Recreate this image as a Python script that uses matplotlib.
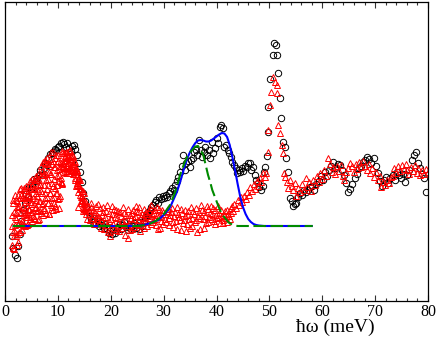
import matplotlib
matplotlib.use("Agg")
import matplotlib.pyplot as plt
from matplotlib.ticker import MultipleLocator

# ---------------- data (intensity in arbitrary units, baseline = 0) ----------------
black_x = [1.3, 1.6, 1.9, 2.2, 2.5, 2.8, 3.1, 3.4, 3.7, 4.0, 4.3, 4.6, 4.9, 5.2, 5.5, 5.8,
           6.1, 6.4, 6.7, 7.0, 7.3, 7.6, 7.9, 8.2, 8.5, 8.8, 9.1, 9.4, 9.7, 10.0, 10.3, 10.6,
           10.9, 11.2, 11.5, 11.8, 12.1, 12.4, 12.7, 13.0, 13.3, 13.6, 13.9, 14.2, 14.5, 14.8,
           15.1, 15.4,
           15.7, 16.0, 16.3, 16.6, 16.9, 17.2, 17.5, 17.8, 18.1, 18.4, 18.7, 19.0, 19.3, 19.6,
           19.9, 20.2, 20.5, 20.8, 21.1, 21.4, 21.7, 22.0, 22.3, 22.6, 22.9, 23.2, 23.5, 23.8,
           24.1, 24.4, 24.7, 25.0, 25.3, 25.6, 25.9, 26.2, 26.5, 26.8, 27.1,
           27.4, 27.7, 28.0, 28.3, 28.6, 28.9, 29.2, 29.5, 29.8, 30.1, 30.4, 30.7, 31.0, 31.3,
           31.6, 31.9, 32.2, 32.5, 32.8, 33.1, 33.4, 33.7, 34.0, 34.3, 34.6, 34.9, 35.2, 35.5,
           35.8, 36.1, 36.4, 36.7, 37.0, 37.3, 37.6, 37.9, 38.2, 38.5, 38.8, 39.1, 39.4, 39.7,
           40.0, 40.3, 40.6, 40.9, 41.2, 41.5, 41.8, 42.1, 42.4, 42.7, 43.0, 43.3, 43.6, 43.9,
           44.2, 44.5, 44.8, 45.1, 45.4, 45.7, 46.0, 46.3, 46.6, 46.9, 47.2, 47.5, 47.8, 48.1,
           48.4, 48.7, 49.0,
           49.2, 49.5, 49.7, 49.8, 50.1, 50.6, 50.8, 51.2, 51.5, 51.7, 52.0, 52.2, 52.6, 52.9,
           53.2, 53.5, 53.9, 54.2, 54.5, 54.8, 55.1, 55.4,
           55.7, 56.1, 56.5, 56.9, 57.3, 57.7, 58.1, 58.5, 58.9, 59.3, 59.7, 60.1, 60.5, 60.9,
           61.3, 61.7, 62.1, 62.5, 62.9, 63.3, 63.7, 64.1, 64.5, 64.9, 65.3, 65.7, 66.1, 66.5,
           66.9, 67.3, 67.7, 68.1, 68.5, 68.9, 69.3, 69.7, 70.1, 70.5, 70.9, 71.3, 71.7, 72.1,
           72.5, 72.9, 73.3, 73.7, 74.1, 74.5, 74.9, 75.3, 75.7, 76.1, 76.5, 76.9, 77.3, 77.7,
           78.1, 78.5, 78.9, 79.3, 79.7]
black_y = [-1.0, -2.2, -2.9, -3.2, -2.0, -0.8, 0.5, 1.6, 2.3, 3.2, 2.9, 3.9, 3.7, 4.0, 4.7, 4.5,
           4.8, 5.1, 5.6, 5.1, 5.8, 6.3, 6.1, 6.8, 7.2, 7.3, 7.4, 7.7, 7.6, 7.9, 8.0, 8.3,
           8.4, 8.2, 7.9, 8.3, 7.8, 7.5, 8.0, 8.1, 7.7, 7.1, 6.3, 5.4, 4.4, 3.3,
           2.5, 1.8,
           1.4, 1.0, 0.7, 0.4, 0.8, 0.2, 0.5, 0.0, 0.4, 0.1, -0.2, 0.2, -0.3, -0.7,
           -0.5, -0.8, -0.4, -0.7, -0.2, -0.1, 0.2, -0.3, 0.1, 0.4, -0.1, -0.4, 0.0, -0.3,
           0.0, 0.3, -0.2, 0.1, -0.3, 0.4, 0.0, 0.5, 0.9, 1.3, 1.1,
           1.6, 1.9, 2.1, 2.4, 2.6, 2.3, 2.9, 2.7, 3.0, 2.8, 3.1, 2.9, 3.3, 3.5,
           3.8, 3.6, 4.1, 4.5, 4.9, 5.4, 6.0, 7.1, 5.6, 6.3, 6.5, 5.9, 6.6, 6.8,
           7.4, 7.6, 7.1, 8.6, 7.6, 6.9, 7.4, 7.9, 7.1, 7.6, 6.8, 8.4, 7.3, 7.8,
           8.8, 8.3, 9.9, 10.1, 9.8, 7.9, 8.1, 7.6, 7.3, 6.9, 6.4, 6.1, 5.8, 5.3,
           5.6, 5.4, 5.8, 5.5, 6.0, 5.9, 6.3, 6.3, 5.6, 5.9, 5.1, 4.6, 4.3, 3.9,
           3.6, 4.0, 5.4,
           5.9, 7.0, 9.4, 11.9, 14.7, 17.1, 18.3, 18.1, 17.1, 15.3, 12.8, 10.8, 8.4, 7.9,
           6.8, 5.4, 2.8, 2.5, 2.0, 2.2, 2.3, 2.9,
           3.3, 3.1, 3.6, 3.4, 3.6, 3.9, 4.0, 3.6, 4.2, 4.5, 5.0, 4.6, 5.4, 5.0,
           5.6, 6.0, 6.4, 5.8, 6.2, 6.1, 5.6, 5.1, 4.3, 3.4, 3.7, 4.2, 4.8, 5.2,
           5.8, 6.0, 6.4, 6.6, 6.9, 6.7, 6.3, 6.8, 6.0, 5.3, 4.5, 4.0, 4.6, 4.9,
           4.3, 4.8, 5.1, 4.6, 5.4, 5.1, 4.8, 5.2, 4.4, 5.1, 5.6, 6.6, 7.1, 7.4,
           6.3, 5.8, 5.2, 4.8, 3.4]

red_x = [1.3, 1.4, 1.5, 1.6, 1.7, 1.8, 1.9, 2.0, 2.1, 2.2, 2.3, 2.4, 2.5, 2.6, 2.7, 2.8,
         2.9, 3.0, 3.1, 3.2, 3.3, 3.4, 3.5, 3.6, 3.7, 3.8, 3.9, 4.0, 4.1, 4.2, 4.3, 4.4,
         4.5, 4.6, 4.7, 4.8, 4.9, 5.0, 5.1, 5.2, 5.3, 5.4, 5.5, 5.6, 5.7, 5.8, 5.9, 6.0,
         6.1, 6.2, 6.3, 6.4, 6.5, 6.6, 6.7, 6.8, 6.9, 7.0, 7.1, 7.2, 7.3, 7.4, 7.5, 7.6,
         7.7, 7.8, 7.9, 8.0, 8.1, 8.2, 8.3, 8.4, 8.5, 8.6, 8.7, 8.8, 8.9, 9.0, 9.1, 9.2,
         9.3, 9.4, 9.5, 9.6, 9.7, 9.8, 9.9, 10.0, 10.1, 10.2, 10.3,
         10.4, 10.5, 10.6, 10.7, 10.8, 10.9, 11.0, 11.1, 11.2, 11.3, 11.4, 11.5, 11.6, 11.7,
         11.8, 11.9, 12.0, 12.1, 12.2, 12.3, 12.4, 12.5, 12.6, 12.7, 12.8, 12.9, 13.0, 13.1,
         13.2, 13.3, 13.4, 13.5, 13.6, 13.7, 13.8, 13.9, 14.0, 14.1, 14.2, 14.3, 14.4, 14.5,
         14.6, 14.7, 14.8, 14.9, 15.0, 15.1, 15.2, 15.3, 15.4, 15.5,
         15.7, 15.95, 16.2, 16.45, 16.7, 16.95, 17.2, 17.45, 17.7, 17.95, 18.2, 18.45, 18.7,
         18.95, 19.2, 19.45, 19.7, 19.95, 20.2, 20.45, 20.7, 20.95, 21.2, 21.45, 21.7, 21.95,
         22.2, 22.45, 22.7, 22.95, 23.2, 23.45, 23.7, 23.95, 24.2, 24.45, 24.7, 24.95, 25.2,
         25.45, 25.7, 25.95, 26.2, 26.45, 26.7, 26.95, 27.2, 27.45, 27.7, 27.95, 28.2, 28.45,
         28.7, 28.95, 29.2, 29.45, 29.7, 29.95,
         30.2, 30.5, 30.8, 31.1, 31.4, 31.7, 32.0, 32.3, 32.6, 32.9, 33.2, 33.5, 33.8, 34.1,
         34.4, 34.7, 35.0, 35.3, 35.6, 35.9, 36.2, 36.5, 36.8, 37.1, 37.4, 37.7, 38.0, 38.3,
         38.6, 38.9, 39.2, 39.5, 39.8, 40.1, 40.4, 40.7, 41.0, 41.3, 41.6, 41.9, 42.2, 42.5,
         42.8,
         43.1, 43.4, 43.7, 44.0, 44.3, 44.6, 44.9, 45.2, 45.5, 45.8, 46.1, 46.4, 46.7, 47.0,
         47.3, 47.6, 47.9, 48.2, 48.5, 48.8, 49.1,
         49.4, 49.7, 49.8, 50.1, 50.4, 50.7, 51.1, 51.4, 51.5, 51.7, 52.0, 52.3, 52.5, 52.7,
         53.0, 53.3, 53.6, 53.9, 54.2, 54.5, 54.8,
         55.1, 55.45, 55.8, 56.15, 56.5, 56.85, 57.2, 57.55, 57.9, 58.25, 58.6, 58.95, 59.3,
         59.65, 60.0, 60.35, 60.7, 61.05, 61.4, 61.75, 62.1, 62.45, 62.8, 63.15, 63.5, 63.85,
         64.2, 64.55, 64.9, 65.25, 65.6, 65.95, 66.3, 66.65, 67.0, 67.35, 67.7, 68.05, 68.4,
         68.75, 69.1, 69.45, 69.8, 70.15, 70.5, 70.85, 71.2, 71.55, 71.9, 72.25, 72.6, 72.95,
         73.3, 73.65, 74.0, 74.35, 74.7, 75.05, 75.4, 75.75, 76.1, 76.45, 76.8, 77.15, 77.5,
         77.85, 78.2, 78.55, 78.9, 79.25, 79.6, 79.95]
red_y = [-1.9, 1.1, -0.6, 2.6, -2.3, 0.9, -0.6, 2.6, 0.7, -0.8, 1.9, -1.6, 3.1, 0.4, 2.0, -0.6,
         2.8, 1.3, 3.8, 0.5, 0.2, 2.9, 1.4, 3.8, 0.0, 2.4, 1.2, 3.6, 2.1, 0.9, 3.1, 0.2,
         4.0, 1.7, 3.0, 0.7, 3.7, 2.2, 4.7, 1.4, 1.0, 3.8, 2.2, 4.8, 0.7, 3.3, 1.9, 4.6,
         3.0, 1.6, 4.1, 0.7, 5.3, 2.5, 4.2, 1.3, 5.1, 3.3, 6.4, 2.3, 1.8, 5.3, 3.3, 6.6,
         1.3, 4.6, 2.9, 6.2, 4.1, 2.3, 5.4, 1.2, 6.7, 3.3, 5.2, 1.9, 6.2, 4.0, 7.4, 2.9,
         2.3, 5.9, 3.8, 7.1, 1.7, 5.0, 3.3, 6.5, 4.5, 2.8, 5.7,
         3.0, 6.3, 4.8, 7.3, 4.2, 6.3, 5.9, 7.3, 6.5, 5.8, 6.9, 5.3, 7.4, 6.1,
         6.8, 5.5, 7.1, 6.3, 7.6, 5.9, 5.6, 6.9, 6.0, 7.1, 5.2, 6.2, 5.5, 6.5,
         5.6, 4.8, 5.6, 4.0, 5.6, 4.3, 4.7, 3.4, 4.6, 3.7, 4.6, 2.9, 2.5, 3.5,
         2.6, 3.5, 1.5, 2.4, 1.7, 2.5, 1.8, 1.2, 1.9, 0.7,
         2.0, 1.2, 2.3, 0.8, 1.6, 0.4, 2.0, 1.1, 0.3, 1.8, 0.6, 1.4, -0.3,
         0.9, 2.1, -0.6, 0.5, -1.0, 1.2, 0.2, 1.7, -0.4, 0.8, 1.5, 0.1, 1.0,
         -0.2, 1.3, -0.9, 0.6, -1.2, 0.3, 1.1, -0.3, 1.6, 0.7, 2.0, 0.2, 1.4,
         -0.5, 0.9, 0.3, 1.7, 0.6, 1.2, 0.0, 1.5, 0.8, 2.1, 0.4, 1.3, 0.7,
         1.9, -0.3, 1.0, 0.5, 1.6, 0.2,
         1.2, 0.4, 1.7, 0.8, 1.4, -0.1, 1.0, 0.5, 1.9, 0.9, -0.4, 1.3, 0.6, 1.6,
         0.2, 1.1, -0.2, 0.8, 1.5, 0.4, 1.8, 1.0, -0.3, 2.1, 0.7, 1.4, 0.3, 1.7,
         0.9, 2.0, 1.2, 0.5, 1.6, 0.8, 1.3, 0.3, 1.0, 0.6, 1.5, 0.4, 1.2, 0.7,
         1.8,
         1.5, 2.2, 1.8, 2.6, 2.1, 2.9, 2.4, 3.0, 2.7, 3.4, 3.1, 3.9, 3.5, 4.2,
         3.7, 4.5, 4.0, 4.8, 4.4, 5.3, 4.9,
         5.3, 7.4, 9.6, 12.1, 13.4, 14.9, 14.4, 14.1, 13.3, 10.1, 9.3, 8.1, 7.3, 5.3,
         4.9, 4.4, 3.8, 4.6, 4.0, 3.6, 4.3,
         3.0, 3.8, 3.4, 4.2, 3.6, 4.8, 3.9, 4.4, 3.5, 4.6, 4.1, 5.0, 4.4,
         5.3, 4.7, 5.6, 5.0, 6.8, 6.2, 5.4, 5.9, 5.2, 6.0, 5.5, 6.1, 5.0,
         4.6, 5.4, 5.8, 6.3, 6.0, 5.4, 6.2, 5.7, 6.4, 5.9, 6.5, 6.0, 5.6,
         6.2, 5.3, 5.8, 4.9, 5.4, 4.6, 5.0, 3.9, 4.4, 4.1, 4.6, 4.3, 4.9,
         5.0, 5.8, 5.3, 6.0, 5.5, 6.1, 5.7, 6.2, 5.6, 5.2, 5.9, 5.5, 6.1,
         5.3, 5.8, 5.1, 5.6, 5.2, 5.7, 5.4]

# second, interleaved red channel (denser sampling below ~43 meV)
red2_x = [1.35, 1.45, 1.55, 1.65, 1.75, 1.85, 1.95, 2.05, 2.15, 2.25, 2.35, 2.45, 2.55, 2.65,
          2.75, 2.85, 2.95, 3.05, 3.15, 3.25, 3.35, 3.45, 3.55, 3.65, 3.75, 3.85, 3.95, 4.05,
          4.15, 4.25, 4.35, 4.45, 4.55, 4.65, 4.75, 4.85, 4.95, 5.05, 5.15, 5.25, 5.35, 5.45,
          5.55, 5.65, 5.75, 5.85, 5.95, 6.05, 6.15, 6.25, 6.35, 6.45, 6.55, 6.65, 6.75, 6.85,
          6.95, 7.05, 7.15, 7.25, 7.35, 7.45, 7.55, 7.65, 7.75, 7.85, 7.95, 8.05, 8.15, 8.25,
          8.35, 8.45, 8.55, 8.65, 8.75, 8.85, 8.95, 9.05, 9.15, 9.25, 9.35, 9.45, 9.55, 9.65,
          9.75, 9.85, 9.95, 10.05, 10.15, 10.25,
          10.45, 10.55, 10.65, 10.75, 10.85, 10.95, 11.05, 11.15, 11.25, 11.35, 11.45, 11.55,
          11.65, 11.75, 11.85, 11.95, 12.05, 12.15, 12.25, 12.35, 12.45, 12.55, 12.65, 12.75,
          12.85, 12.95, 13.05, 13.15, 13.25, 13.35, 13.45, 13.55, 13.65, 13.75, 13.8, 13.85,
          13.95, 14.05, 14.15, 14.25, 14.35, 14.45, 14.55, 14.65, 14.75, 14.85, 14.95, 15.05,
          15.15,
          15.83, 16.08, 16.33, 16.58, 16.83, 17.08, 17.33, 17.58, 17.83, 18.08, 18.33, 18.58,
          18.83, 19.08, 19.33, 19.58, 19.83, 20.08, 20.33, 20.58, 20.83, 21.08, 21.33, 21.58,
          21.83, 22.08, 22.33, 22.58, 22.83, 23.08, 23.33, 23.58, 23.83, 24.08, 24.33, 24.58,
          24.83, 25.08, 25.33, 25.58, 25.83, 26.08, 26.33, 26.58, 26.83, 27.08, 27.33, 27.58,
          27.83, 28.08, 28.33, 28.58, 28.83, 29.08, 29.33, 29.58, 29.83,
          30.35, 30.65, 30.95, 31.25, 31.55, 31.85, 32.15, 32.45, 32.75, 33.05, 33.35, 33.65,
          33.95, 34.25, 34.55, 34.85, 35.15, 35.45, 35.75, 36.05, 36.35, 36.65, 36.95, 37.25,
          37.55, 37.85, 38.15, 38.45, 38.75, 39.05, 39.35, 39.65, 39.95, 40.25, 40.55, 40.85,
          41.15, 41.45, 41.75, 42.05, 42.35, 42.65, 42.95]
red2_y = [0.0, -2.2, 2.3, -1.0, 1.4, 0.1, 3.1, -1.0, 1.3, -1.85, 2.5, 0.2, 1.9, -0.6,
          3.7, 1.4, 0.3, 3.1, -0.4, 2.8, 1.9, 0.1, 3.6, 1.1, 2.8, 1.8, 4.0, 0.9,
          2.6, 0.1, 3.5, 1.6, 2.9, 0.9, 4.5, 2.4, 1.4, 4.0, 0.5, 3.7, 2.8, 0.8,
          4.6, 1.8, 3.7, 2.6, 5.0, 1.5, 3.5, 0.6, 4.6, 2.5, 4.1, 1.5, 6.0, 3.5,
          2.2, 5.5, 1.1, 5.1, 4.1, 1.6, 6.3, 2.8, 5.2, 3.7, 6.8, 2.3, 4.7, 1.2,
          6.0, 3.3, 5.2, 2.1, 7.4, 4.3, 2.8, 6.5, 1.6, 5.9, 4.7, 2.0, 6.8, 3.3,
          5.6, 4.1, 7.1, 2.7, 5.1, 1.8,
          6.4, 4.4, 6.0, 4.3, 7.5, 6.2, 5.8, 7.3, 5.4, 7.0, 6.6, 5.5,
          7.4, 6.0, 6.9, 6.3, 7.5, 5.8, 6.7, 5.3, 7.0, 6.0, 6.5, 5.5,
          7.0, 6.0, 5.4, 6.4, 4.6, 5.8, 5.2, 4.1, 5.5, 4.1, 1.9, 4.7,
          4.0, 4.8, 3.1, 3.7, 2.3, 3.7, 2.6, 3.0, 1.8, 3.3, 2.2, 1.6,
          2.5,
          1.5, 0.6, 1.9, 1.2, 0.2, 1.4, 0.7, 2.2, 0.9, -0.2, 1.1, 1.9,
          0.4, 1.5, 0.1, 1.3, -0.6, 0.7, 2.0, -0.2, 0.9, 1.6, 0.3, -0.5,
          1.4, 0.5, 1.9, 0.2, 1.1, 0.0, 1.7, -0.4, 0.8, 1.3, -0.1, 1.0,
          1.5, 0.6, 1.9, 0.1, 1.2, 0.8, -0.2, 1.4, 0.4, 1.0, 1.8, 0.2,
          1.2, 0.6, 1.6, 0.1, 1.1, 1.7, -0.2, 0.9, 1.4,
          0.7, 1.5, 0.1, 1.1, 1.8, 0.4, 1.4, -0.3, 1.2, 0.6, 1.7, 0.3,
          1.0, -0.5, 1.5, 0.7, 1.9, 0.0, 1.2, 0.6, -0.6, 1.4, 0.8, 1.6,
          -0.2, 1.0, 2.0, 0.4, 1.3, 0.7, 1.8, 0.2, 1.1, 2.0, 0.9, 1.6,
          0.3, 1.1, 0.8, 1.6, 1.0, 1.3, 2.0]

# two-peak fit (solid) and single-peak fit (dashed)
fit_x = [1.45, 24.0, 25.0, 26.0, 27.0, 28.0, 29.0, 30.0, 31.0, 31.5, 32.0, 32.5, 33.0, 33.5,
         34.0, 34.5, 35.0, 35.5, 36.0, 36.5, 37.0, 37.5, 38.0, 38.5, 39.0, 39.5, 40.0, 40.5,
         41.0, 41.5, 42.0, 42.5, 43.0, 43.5, 44.0, 44.5, 45.0, 45.5, 46.0, 46.5, 47.0, 47.5,
         48.0, 49.0, 58.2]
fit_y = [0.0, 0.0, 0.02, 0.08, 0.2, 0.4, 0.6, 1.1, 1.7, 2.2, 2.8, 3.4, 4.2, 5.1,
         6.0, 6.8, 7.4, 7.9, 8.3, 8.55, 8.6, 8.55, 8.45, 8.45, 8.55, 8.75, 8.95, 9.15,
         9.3, 9.25, 8.9, 8.1, 6.9, 5.6, 4.2, 2.9, 1.9, 1.2, 0.7, 0.4, 0.2, 0.1,
         0.05, 0.0, 0.0]
single_x = [1.45, 25.0, 25.5, 26.5, 27.3, 28.5, 29.9, 31.2, 32.2, 33.1, 34.0, 34.7, 35.4,
            36.0, 36.5, 37.0, 37.5, 38.0, 38.4, 38.8, 39.2, 39.7, 40.5, 41.0, 41.6, 42.3,
            43.1, 44.0, 58.2]
single_y = [0.0, 0.0, 0.02, 0.1, 0.2, 0.5, 1.1, 2.1, 3.4, 5.1, 6.4, 7.2, 7.6,
            7.95, 8.0, 7.6, 7.1, 6.0, 5.1, 4.4, 3.6, 2.9, 1.8, 1.2, 0.8, 0.35,
            0.1, 0.0, 0.0]

x_ticks = [0, 10, 20, 30, 40, 50, 60, 70, 80]
x_label = "ħω (meV)"

# ---------------- figure ----------------
fig = plt.figure(figsize=(4.38, 3.38), dpi=100)
ax = fig.add_axes([5 / 438, 37 / 338, 423 / 438, 299 / 338])

ax.plot(black_x, black_y, linestyle="none", marker="o", markersize=4.6,
        markerfacecolor="none", markeredgecolor="black", markeredgewidth=0.7)
for rx, ry in ((red_x, red_y), (red2_x, red2_y)):
    ax.plot(rx, ry, linestyle="none", marker="^", markersize=4.4,
            markerfacecolor="none", markeredgecolor="#ff0000", markeredgewidth=0.7)
ax.plot(fit_x, fit_y, color="#0000ff", lw=1.5, solid_capstyle="butt")
ax.plot(single_x, single_y, color="#008a00", lw=1.5, linestyle=(0, (6, 2.2)))

ax.set_xlim(0, 80)
ax.set_ylim(-7.5, 22.4)
ax.set_xticks(x_ticks)
ax.xaxis.set_minor_locator(MultipleLocator(2))
ax.set_yticks([])
ax.tick_params(axis="x", which="both", direction="in", top=True, bottom=True,
               color="#333333", width=0.8, pad=2)
ax.tick_params(axis="x", which="major", length=4.5)
ax.tick_params(axis="x", which="minor", length=2.3)
for lab in ax.get_xticklabels():
    lab.set_family("Liberation Serif")
    lab.set_fontsize(11.5)
for sp in ax.spines.values():
    sp.set_linewidth(0.9)
    sp.set_color("black")

ax.set_xlabel(x_label, family="Liberation Serif", fontsize=14)
ax.xaxis.set_label_coords((335 - 5) / 423, -0.087)
ax.xaxis.label.set_verticalalignment("center")

fig.savefig("out.png", dpi=100)
